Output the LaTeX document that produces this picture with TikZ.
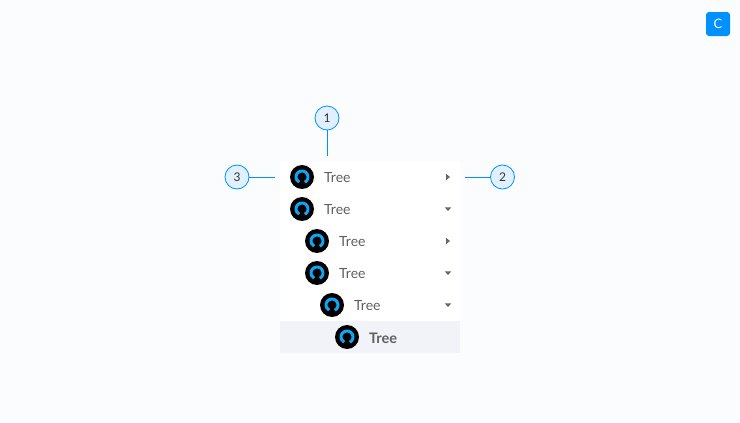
\documentclass[tikz,border=0pt]{standalone}
\usepackage{fontspec}
\setmainfont{Lato}
\definecolor{pagebg}{HTML}{FBFCFE}
\definecolor{accent}{HTML}{0091FF}
\definecolor{iconring}{HTML}{0FA5F5}
\definecolor{markerfill}{HTML}{E0F0FF}
\definecolor{rowsel}{HTML}{F2F3F8}
\definecolor{treetext}{HTML}{5F5F5F}
\definecolor{caret}{HTML}{666666}
\tikzset{
  x=1pt,y=-1pt,
  marker/.style={circle,draw=accent,fill=markerfill,line width=.8pt,minimum size=24pt,inner sep=0pt,font=\fontsize{12}{12}\selectfont,text=black!80},
  leader/.style={draw=accent,line width=.8pt},
  rowlabel/.style={anchor=west,inner sep=0pt,text=treetext,font=\fontsize{14}{14}\selectfont},
  icondisc/.style={circle,fill=black,minimum size=24pt,inner sep=0pt},
  caretshape/.style={fill=caret,draw=none},
}
\newcommand{\treeicon}[3]{% x, y, name
  \node[icondisc] (#3) at (#1,#2) {};
  \draw[iconring,line width=3pt] ([shift={(-62:6pt)}]#3.center) arc[start angle=-62,end angle=242,radius=6pt];
}
\newcommand{\caretright}[2]{\fill[caretshape] (#1-1.8,#2-3) -- (#1+2,#2) -- (#1-1.8,#2+3) -- cycle;}
\newcommand{\caretdown}[2]{\fill[caretshape] (#1-3.2,#2-1.6) -- (#1+3.2,#2-1.6) -- (#1,#2+2) -- cycle;}
\begin{document}
\begin{tikzpicture}
\useasboundingbox (0,0) rectangle (740,423);
\fill[pagebg] (0,0) rectangle (740,423);
\fill[white] (280,161) rectangle (460,353);
\fill[rowsel] (280,321) rectangle (460,353);

\node[fill=accent,rounded corners=3pt,minimum size=24pt,inner sep=0pt,text=white,font=\fontsize{13}{13}\selectfont] (btn) at (718,24) {C};

\treeicon{302}{177}{i1}
\node[rowlabel] (t1) at (324,178) {Tree};
\caretright{448}{177}
\treeicon{302}{209}{i2}
\node[rowlabel] (t2) at (324,210) {Tree};
\caretdown{448}{209}
\treeicon{317}{241}{i3}
\node[rowlabel] (t3) at (339,242) {Tree};
\caretright{448}{241}
\treeicon{317}{273}{i4}
\node[rowlabel] (t4) at (339,274) {Tree};
\caretdown{448}{273}
\treeicon{332}{305}{i5}
\node[rowlabel] (t5) at (354,306) {Tree};
\caretdown{448}{305}
\treeicon{347}{337}{i6}
\node[rowlabel,font=\fontsize{14.5}{14}\selectfont\bfseries] (t6) at (369,338) {Tree};

\node[marker] (m1) at (327,118) {1};
\node[marker] (m2) at (502.5,177) {2};
\node[marker] (m3) at (237,177) {3};
\coordinate (e1) at (327,156);
\coordinate (e2) at (465,177);
\coordinate (e3) at (275,177);
\draw[leader] (m1) -- (e1);
\draw[leader] (m2) -- (e2);
\draw[leader] (m3) -- (e3);
\end{tikzpicture}
\end{document}
